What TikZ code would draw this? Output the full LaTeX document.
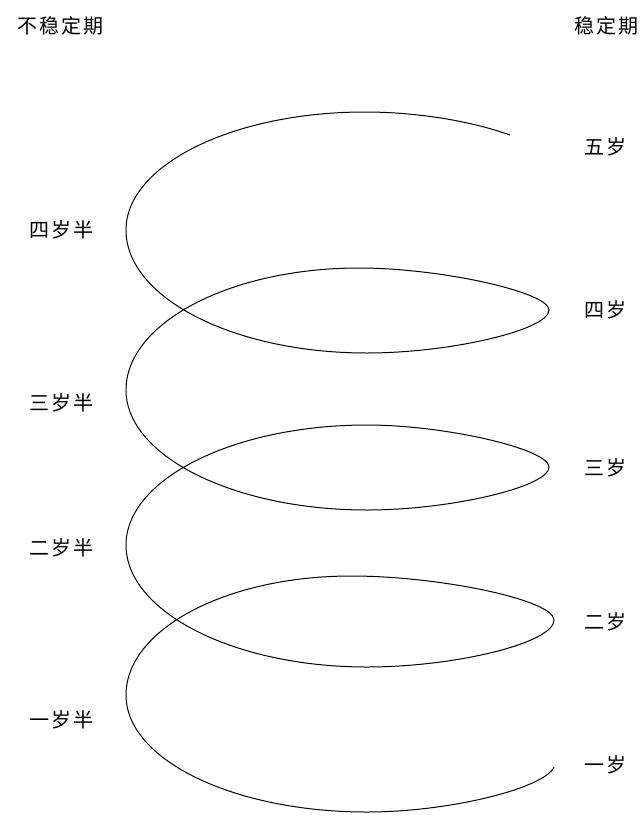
\documentclass[tikz,border=0pt]{standalone}
\usepackage{fontspec}
\newfontfamily\cjk{Noto Sans CJK SC}
\newcommand{\gp}{\kern2pt}
\begin{document}
\begin{tikzpicture}[x=1pt,y=-1pt,
  lbl/.style={font=\cjk\fontsize{20}{20}\selectfont, inner sep=0pt, anchor=center},
  spiral/.style={line width=1pt, black}]
\useasboundingbox (0,0) rectangle (640,835);
% labels
\node[lbl] (unst) at (60,26) {不\gp 稳\gp 定\gp 期};
\node[lbl] (st) at (606,26) {稳\gp 定\gp 期};
\node[lbl] (h4) at (61,230) {四\gp 岁\gp 半};
\node[lbl] (h3) at (61,403) {三\gp 岁\gp 半};
\node[lbl] (h2) at (61,548) {二\gp 岁\gp 半};
\node[lbl] (h1) at (61,720) {一\gp 岁\gp 半};
\node[lbl] (a5) at (605,147) {五\gp 岁};
\node[lbl] (a4) at (605,310) {四\gp 岁};
\node[lbl] (a3) at (605,468) {三\gp 岁};
\node[lbl] (a2) at (605,622) {二\gp 岁};
\node[lbl] (a1) at (605,765) {一\gp 岁};
% spiral key points
\coordinate (E1) at (510,135);
\coordinate (T1) at (365,112);
\coordinate (L1) at (126,230);
\coordinate (B1) at (367,353);
\coordinate (P1) at (549,310);
\coordinate (U1) at (359,268);
\coordinate (L2) at (126,390);
\coordinate (B2) at (367,510);
\coordinate (P2) at (549,467);
\coordinate (U2) at (367,425);
\coordinate (L3) at (126,545);
\coordinate (B3) at (367,667);
\coordinate (P3) at (554,620);
\coordinate (U3) at (351,576);
\coordinate (L4) at (126,695);
\coordinate (B4) at (367,812);
\coordinate (E2) at (554,767);
\draw[spiral] (E1)
  .. controls (465,119) and (410,112) .. (T1)
  .. controls (233,112) and (126,165) .. (L1)
  .. controls (126,298) and (234,353) .. (B1)
  .. controls (450,353) and (549,330) .. (P1)
  .. controls (549,292) and (440,268) .. (U1)
  .. controls (230,268) and (126,323) .. (L2)
  .. controls (126,456) and (234,510) .. (B2)
  .. controls (450,510) and (549,487) .. (P2)
  .. controls (549,449) and (445,425) .. (U2)
  .. controls (234,425) and (126,479) .. (L3)
  .. controls (126,612) and (234,667) .. (B3)
  .. controls (455,667) and (554,643) .. (P3)
  .. controls (554,600) and (440,576) .. (U3)
  .. controls (227,576) and (126,629) .. (L4)
  .. controls (126,760) and (234,812) .. (B4)
  .. controls (450,812) and (545,788) .. (E2);
\end{tikzpicture}
\end{document}
